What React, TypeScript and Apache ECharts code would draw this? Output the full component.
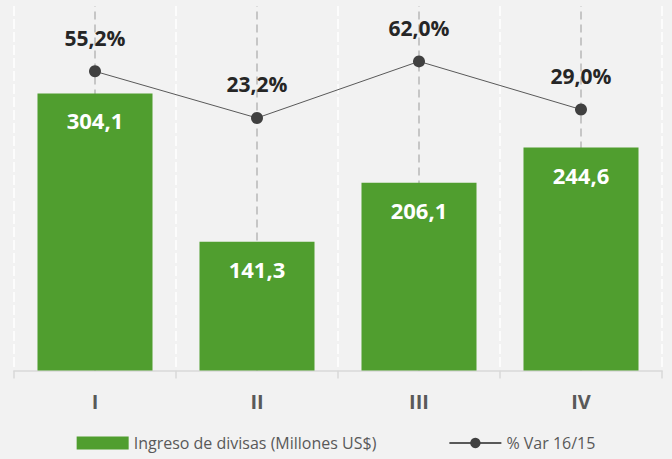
import React, { useEffect, useRef } from "react";
import * as echarts from "echarts";

const categories = ["I", "II", "III", "IV"];
const ingresoValues = [304.1, 141.3, 206.1, 244.6];
const varValues = [55.2, 23.2, 62.0, 29.0];
const barName = "Ingreso de divisas (Millones US$)";
const lineName = "% Var 16/15";

const fmt = (v: number) => v.toFixed(1).replace(".", ",");

export default function App() {
  const ref = useRef<HTMLDivElement>(null);
  useEffect(() => {
    if (!ref.current) return;
    const chart = echarts.init(ref.current, undefined, { renderer: "svg" });
    const font = "'Open Sans', sans-serif";
    chart.setOption({
      animation: false,
      backgroundColor: "#f2f2f2",
      textStyle: { fontFamily: font },
      grid: { left: 14, right: 10, top: 6, bottom: 88.5 },
      legend: {
        bottom: 3,
        left: "center",
        itemGap: 72,
        itemWidth: 52,
        itemHeight: 13,
        textStyle: { fontSize: 16, color: "#595959", fontFamily: font },
        data: [
          { name: barName, icon: "rect" },
          { name: lineName },
        ],
      },
      xAxis: {
        type: "category",
        data: categories,
        axisLine: { lineStyle: { color: "#d9d9d9", width: 1.5 } },
        axisTick: { show: true, length: 8, lineStyle: { color: "#d9d9d9", width: 1.5 } },
        axisLabel: { margin: 21, fontSize: 20, fontWeight: "bold", color: "#595959", fontFamily: font },
        splitLine: { show: true, lineStyle: { color: "#ffffff", width: 1.5, type: [10, 3] } },
      },
      yAxis: [
        { type: "value", min: 0, max: 400, show: false, splitLine: { show: false } },
        { type: "value", min: -150, max: 100, show: false, splitLine: { show: false } },
      ],
      series: [
        {
          name: barName,
          type: "bar",
          data: ingresoValues,
          barWidth: "71%",
          z: 2,
          itemStyle: { color: "#509e2f" },
          label: {
            show: true,
            position: "insideTop",
            distance: 16,
            color: "#ffffff",
            fontSize: 22,
            fontWeight: "bold",
            fontFamily: font,
            formatter: (p: any) => fmt(p.value),
          },
          markLine: {
            silent: true,
            z: 1,
            symbol: "none",
            label: { show: false },
            lineStyle: { color: "#c6c6c6", width: 2, type: [8, 5] },
            data: categories.map((c) => ({ xAxis: c })),
          },
        },
        {
          name: lineName,
          type: "line",
          yAxisIndex: 1,
          data: varValues,
          z: 3,
          symbol: "circle",
          symbolSize: 12,
          lineStyle: { color: "#595959", width: 1 },
          itemStyle: { color: "#404040" },
          label: {
            show: true,
            position: "top",
            distance: 17,
            color: "#262626",
            fontSize: 21,
            fontWeight: "bold",
            fontFamily: font,
            formatter: (p: any) => fmt(p.value) + "%",
          },
        },
      ],
    });
    return () => chart.dispose();
  }, []);
  return <div ref={ref} style={{ width: 672, height: 459, position: "absolute", left: 0, top: 0 }} />;
}
